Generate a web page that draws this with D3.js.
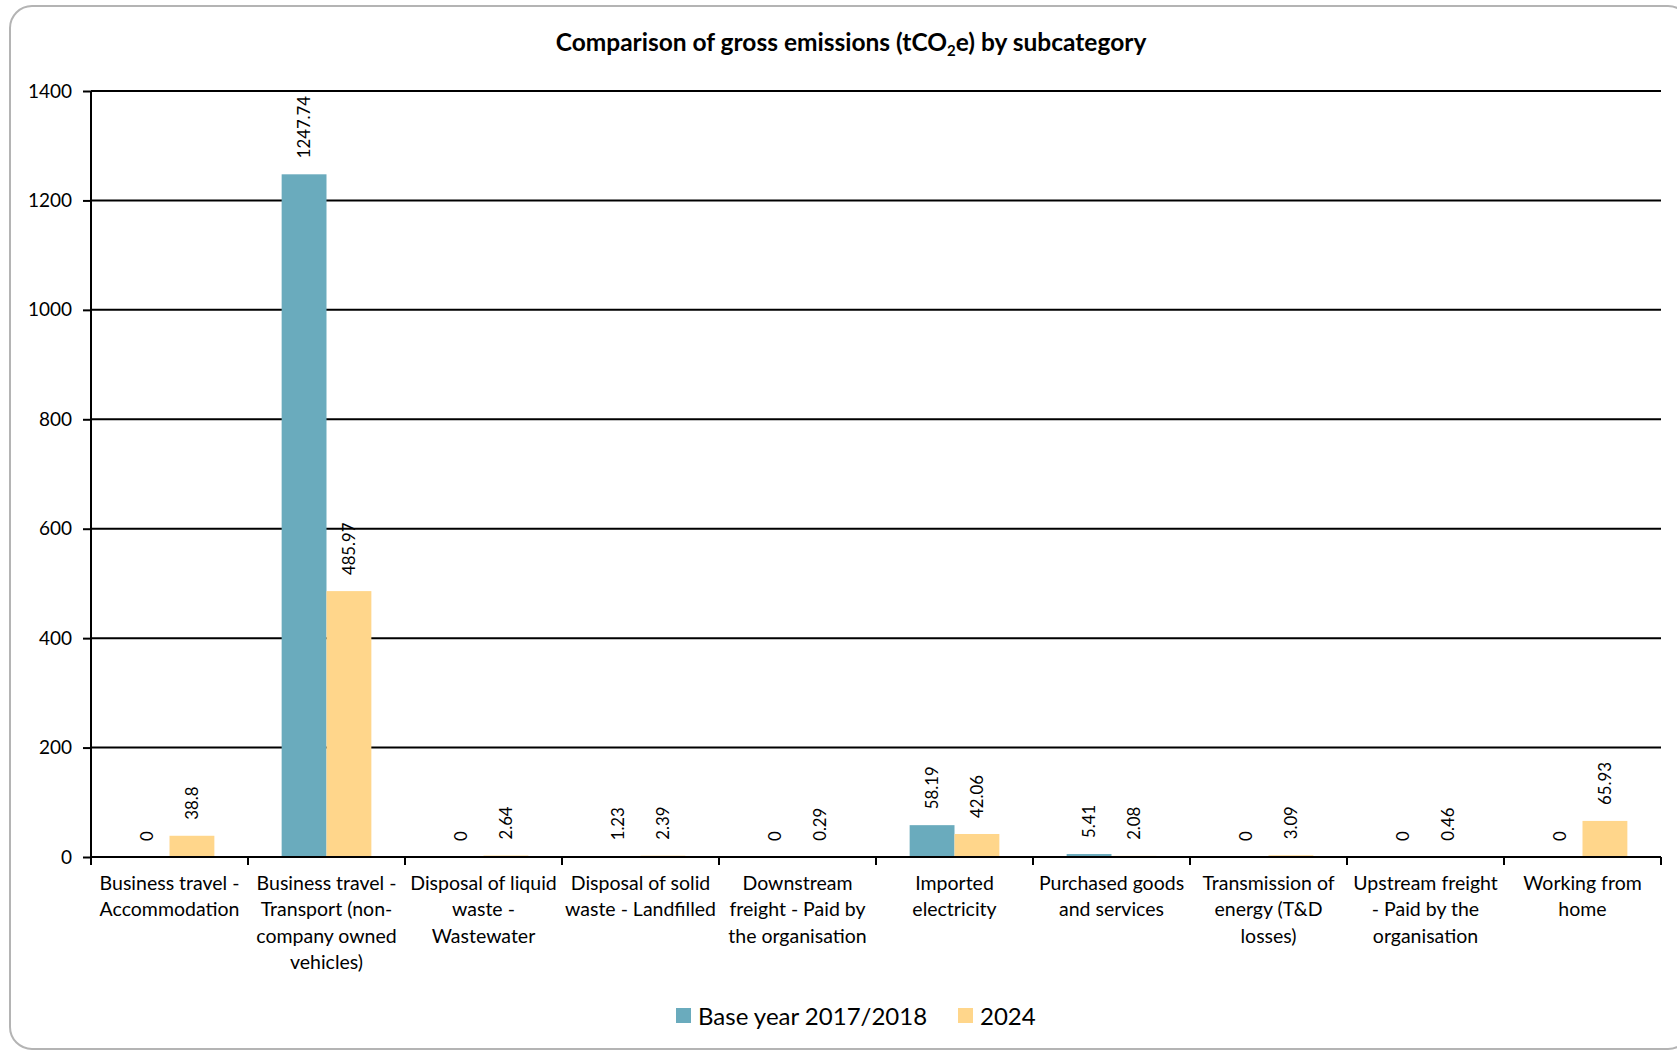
<!DOCTYPE html>
<html>
<head>
<meta charset="utf-8">
<script src="https://cdn.jsdelivr.net/npm/d3@7"></script>
<style>
  html, body { margin: 0; padding: 0; background: #fff; }
  svg { display: block; font-family: Lato, "Open Sans", sans-serif; }
</style>
</head>
<body>
<svg id="chart" width="1677" height="1051"></svg>
<script>
const categories = [
  "Business travel -\nAccommodation",
  "Business travel -\nTransport (non-\ncompany owned\nvehicles)",
  "Disposal of liquid\nwaste -\nWastewater",
  "Disposal of solid\nwaste - Landfilled",
  "Downstream\nfreight - Paid by\nthe organisation",
  "Imported\nelectricity",
  "Purchased goods\nand services",
  "Transmission of\nenergy (T&D\nlosses)",
  "Upstream freight\n- Paid by the\norganisation",
  "Working from\nhome"
];
const seriesNames = ["Base year 2017/2018", "2024"];
const baseYear = [0, 1247.74, 0, 1.23, 0, 58.19, 5.41, 0, 0, 0];
const year2024 = [38.8, 485.97, 2.64, 2.39, 0.29, 42.06, 2.08, 3.09, 0.46, 65.93];
const yTicks = [0, 200, 400, 600, 800, 1000, 1200, 1400];
const colors = ["#6AABBD", "#FFD68B"];

const svg = d3.select("#chart");
const plot = { left: 91, right: 1661, top: 91, bottom: 857 };

// Frame
svg.append("rect")
  .attr("x", 10).attr("y", 6)
  .attr("width", 1680).attr("height", 1043)
  .attr("rx", 22).attr("ry", 22)
  .attr("fill", "#fff").attr("stroke", "#b4b4b4").attr("stroke-width", 2);

// Title
const title = svg.append("text")
  .attr("x", 851).attr("y", 51)
  .attr("text-anchor", "middle")
  .attr("font-size", 24.5).attr("font-weight", "bold").attr("fill", "#000");
title.append("tspan").text("Comparison of gross emissions (tCO");
title.append("tspan").text("2").attr("font-size", 15).attr("dy", 5);
title.append("tspan").text("e) by subcategory").attr("dy", -5);

const x = d3.scaleBand().domain(d3.range(categories.length))
  .range([plot.left, plot.right]).paddingInner(0).paddingOuter(0);
const xs = d3.scaleBand().domain([0, 1]).range([0, x.bandwidth()])
  .paddingInner(0).paddingOuter(0.75);
const y = d3.scaleLinear().domain([0, 1400]).range([plot.bottom, plot.top]);

// Gridlines
svg.append("g").selectAll("line").data(yTicks.filter(d => d > 0)).join("line")
  .attr("x1", plot.left).attr("x2", plot.right)
  .attr("y1", d => y(d)).attr("y2", d => y(d))
  .attr("stroke", "#000").attr("stroke-width", 2);

// Bars
const series = [baseYear, year2024];
const rows = [];
series.forEach((s, si) => s.forEach((v, ci) => rows.push({ si, ci, v })));
svg.append("g").selectAll("rect").data(rows).join("rect")
  .attr("x", d => x(d.ci) + xs(d.si))
  .attr("width", xs.bandwidth())
  .attr("y", d => y(d.v))
  .attr("height", d => y(0) - y(d.v))
  .attr("fill", d => colors[d.si]);

// Value labels
svg.append("g").selectAll("text").data(rows).join("text")
  .attr("transform", d => `translate(${x(d.ci) + xs(d.si) + xs.bandwidth() / 2 + 6},${y(d.v) - 16}) rotate(-90)`)
  .attr("text-anchor", "start")
  .attr("font-size", 16.8).attr("fill", "#000")
  .text(d => String(d.v));

// Y axis
const yAxis = d3.axisLeft(y).tickValues(yTicks).tickSize(8).tickPadding(11)
  .tickFormat(d3.format("d"));
const gy = svg.append("g").attr("transform", `translate(${plot.left},0)`).call(yAxis);
gy.select(".domain").attr("stroke", "#000").attr("stroke-width", 2)
  .attr("d", `M0,${plot.bottom}V${plot.top}`);
gy.selectAll(".tick line").attr("stroke", "#000").attr("stroke-width", 2);
gy.selectAll(".tick text").attr("font-size", 19).attr("fill", "#000")
  .attr("font-family", "Lato, sans-serif");

// X axis with boundary ticks
const bounds = d3.range(categories.length + 1).map(i => plot.left + i * x.step());
const gx = svg.append("g");
gx.append("line").attr("x1", plot.left).attr("x2", plot.right)
  .attr("y1", plot.bottom).attr("y2", plot.bottom)
  .attr("stroke", "#000").attr("stroke-width", 2);
gx.selectAll("line.tk").data(bounds).join("line").attr("class", "tk")
  .attr("x1", d => d).attr("x2", d => d)
  .attr("y1", plot.bottom).attr("y2", plot.bottom + 8)
  .attr("stroke", "#000").attr("stroke-width", 2);

const xl = svg.append("g").selectAll("text").data(categories).join("text")
  .attr("text-anchor", "middle").attr("font-size", 19.5).attr("fill", "#000")
  .attr("transform", (d, i) => `translate(${x(i) + x.bandwidth() / 2},0)`);
xl.each(function(d) {
  const t = d3.select(this);
  d.split("\n").forEach((line, li) => {
    t.append("tspan").attr("x", 0).attr("y", 890 + li * 26.4).text(line);
  });
});

// Legend
const legend = svg.append("g");
const legendItems = [
  { name: seriesNames[0], color: colors[0], sx: 676, tx: 698 },
  { name: seriesNames[1], color: colors[1], sx: 958, tx: 980 }
];
legendItems.forEach(it => {
  legend.append("rect").attr("x", it.sx).attr("y", 1008).attr("width", 15).attr("height", 15)
    .attr("fill", it.color);
  legend.append("text").attr("x", it.tx).attr("y", 1025).attr("font-size", 24)
    .attr("fill", "#000").text(it.name);
});
</script>
</body>
</html>
